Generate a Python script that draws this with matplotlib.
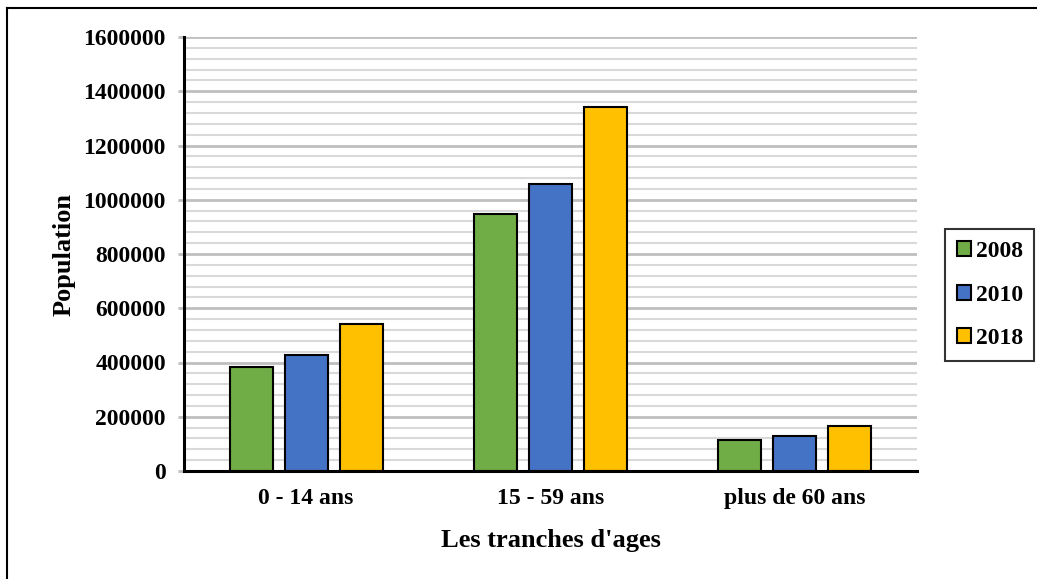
import numpy as np
import matplotlib.pyplot as plt
from matplotlib.lines import Line2D
from matplotlib.ticker import MultipleLocator, FuncFormatter

plt.rcParams['font.family'] = ['Liberation Serif', 'DejaVu Serif']
plt.rcParams['font.weight'] = 'bold'

categories = ["0 - 14 ans", "15 - 59 ans", "plus de 60 ans"]
years = ["2008", "2010", "2018"]
pop_2008 = [383000, 948000, 116000]
pop_2010 = [428000, 1058000, 129000]
pop_2018 = [542000, 1342000, 166000]
colors = ["#70AD47", "#4472C4", "#FFC000"]

fig = plt.figure(figsize=(10.37, 5.79), dpi=100)
ax = fig.add_axes([184 / 1037, 1 - 471 / 579, (917 - 184) / 1037, (471 - 37) / 579])

x = np.arange(len(categories))
width = 0.176
step = 0.225
for i, (vals, yr) in enumerate(zip([pop_2008, pop_2010, pop_2018], years)):
    ax.bar(x + (i - 1) * step, vals, width, color=colors[i], edgecolor="black",
           linewidth=1.5, label=yr, zorder=3)

ax.set_xlim(-0.5, 2.5)
ax.set_ylim(0, 1600000)
ax.yaxis.set_major_locator(MultipleLocator(200000))
ax.yaxis.set_minor_locator(MultipleLocator(40000))
ax.yaxis.set_major_formatter(FuncFormatter(lambda v, p: f"{int(v)}"))
ax.grid(which="major", axis="y", color="#BFBFBF", linewidth=2, zorder=0)
ax.grid(which="minor", axis="y", color="#D9D9D9", linewidth=1.5, zorder=0)
ax.set_xticks(x)
ax.set_xticklabels(categories)
ax.tick_params(axis="x", length=0, pad=12, labelsize=17)
ax.tick_params(axis="y", which="major", length=4, width=2, color="#BFBFBF", pad=9, labelsize=17)
ax.tick_params(axis="y", which="minor", length=0)

for s in ["top", "right"]:
    ax.spines[s].set_visible(False)
ax.spines["left"].set_linewidth(2.2)
ax.spines["bottom"].set_linewidth(2.2)
ax.spines["left"].set_zorder(4)
ax.spines["bottom"].set_zorder(4)

ax.set_ylabel("Population", fontsize=19, fontweight="bold", labelpad=6)
ax.set_xlabel("Les tranches d'ages", fontsize=19, fontweight="bold", labelpad=15)

leg = ax.legend(loc="center left", bbox_to_anchor=(1.038, 0.405), fontsize=17,
                frameon=True, fancybox=False, edgecolor="black", handlelength=0.6,
                handleheight=0.6, handletextpad=0.2, labelspacing=0.95,
                borderpad=0.5, borderaxespad=0)
leg.get_frame().set_linewidth(1.5)

# outer frame, only top and left edges show
fig.add_artist(Line2D([7 / 1037, 7 / 1037], [0, 1 - 8 / 579], color="black", lw=1.5,
                      transform=fig.transFigure))
fig.add_artist(Line2D([7 / 1037, 1], [1 - 8 / 579, 1 - 8 / 579], color="black", lw=1.5,
                      transform=fig.transFigure))

fig.savefig("out.png", dpi=100)
